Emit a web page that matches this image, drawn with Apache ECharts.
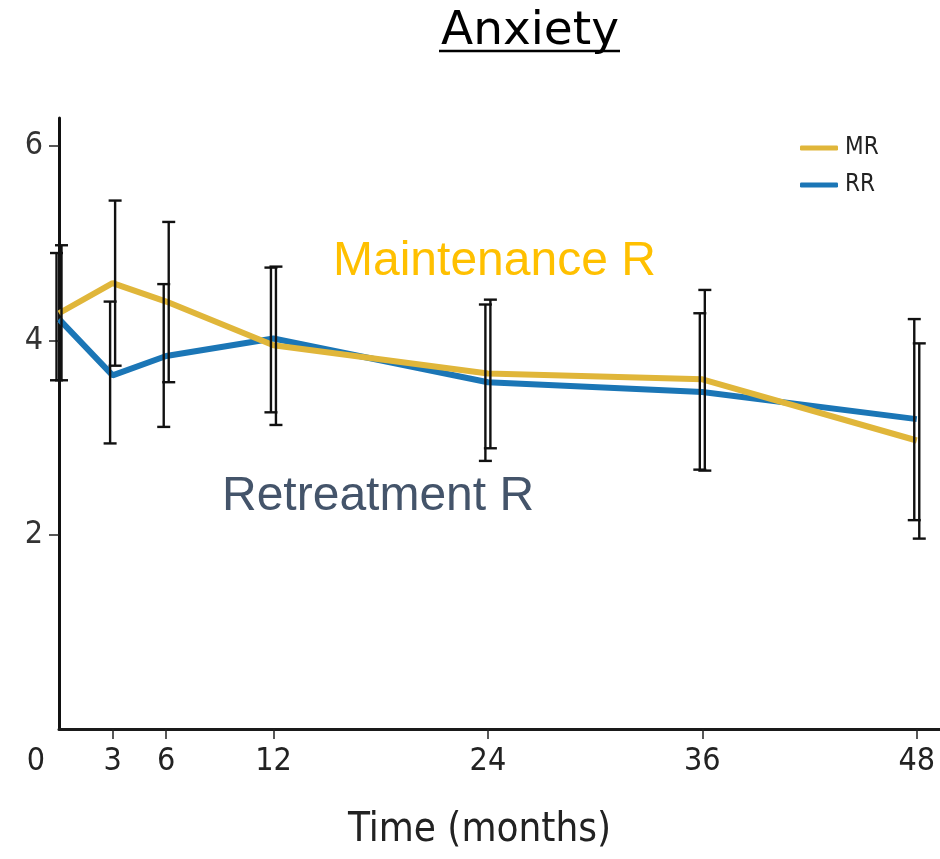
<!DOCTYPE html>
<html><head><meta charset="utf-8">
<script src="https://cdn.jsdelivr.net/npm/echarts@6/dist/echarts.min.js"></script>
<style>html,body{margin:0;padding:0;background:#fff}#c{width:940px;height:859px}</style>
</head><body><div id="c"></div>
<script>
// ---- data ----
const months = [0, 3, 6, 12, 24, 36, 48];
const mrMean = [4.28, 4.59, 4.40, 3.95, 3.66, 3.60, 2.97];
const mrLow  = [3.59, 3.74, 3.57, 3.13, 2.89, 2.66, 1.96];
const mrHigh = [4.98, 5.44, 5.22, 4.76, 4.42, 4.52, 3.97];
const rrMean = [4.22, 3.64, 3.84, 4.02, 3.57, 3.47, 3.19];
const rrLow  = [3.59, 2.94, 3.11, 3.26, 2.76, 2.67, 2.15];
const rrHigh = [4.90, 4.40, 4.58, 4.75, 4.37, 4.28, 4.22];
const xTickValues = [3, 6, 12, 24, 36, 48];
const xLabelValues = [0, 3, 6, 12, 24, 36, 48];
const yTickValues = [2, 4, 6];
const seriesNames = ['MR', 'RR'];

const condensed = "'Liberation Sans Narrow', 'DejaVu Sans Condensed', 'Roboto Condensed', 'Liberation Sans', sans-serif";
const MR_COLOR = '#E0B63A';
const RR_COLOR = '#1B76B6';

function errorBar(offset) {
  return function (params, api) {
    const x = api.value(0);
    const lo = api.coord([x, api.value(1)]);
    const hi = api.coord([x, api.value(2)]);
    const px = lo[0] + offset;
    const cap = 6.5;
    const st = { stroke: '#111', lineWidth: 2.4 };
    return {
      type: 'group',
      children: [
        { type: 'line', shape: { x1: px, y1: lo[1], x2: px, y2: hi[1] }, style: st },
        { type: 'line', shape: { x1: px - cap, y1: lo[1], x2: px + cap, y2: lo[1] }, style: st },
        { type: 'line', shape: { x1: px - cap, y1: hi[1], x2: px + cap, y2: hi[1] }, style: st }
      ]
    };
  };
}

const chart = echarts.init(document.getElementById('c'), null, { renderer: 'canvas' });
chart.setOption({
  backgroundColor: '#fff',
  animation: false,
  grid: { left: 59, right: 0, top: 118, bottom: 130 },
  legend: {
    data: seriesNames,
    orient: 'vertical',
    left: 795, top: 131,
    icon: 'roundRect',
    itemWidth: 38, itemHeight: 5,
    itemGap: 13,
    textStyle: { fontFamily: condensed, fontSize: 24, color: '#222', padding: [0, 0, 0, 2] }
  },
  xAxis: {
    type: 'value', min: 0, max: 49.3,
    name: 'Time (months)', nameLocation: 'middle', nameGap: 82,
    nameTextStyle: { fontFamily: condensed, fontSize: 40, color: '#222', padding: [0, 40, 0, 0] },
    axisLine: { show: true, onZero: false, lineStyle: { color: '#1a1a1a', width: 3 } },
    axisTick: { show: true, customValues: xTickValues, length: 10, lineStyle: { color: '#222', width: 1.5 } },
    axisLabel: {
      customValues: xLabelValues, margin: 17,
      fontFamily: condensed, fontSize: 32, color: '#222',
      formatter: v => v === 0 ? '{z|0}' : String(v),
      rich: { z: { fontFamily: condensed, fontSize: 32, color: '#222', padding: [0, 46, 0, 0] } }
    },
    splitLine: { show: false }
  },
  yAxis: {
    type: 'value', min: 0, max: 6.29,
    axisLine: { show: true, onZero: false, lineStyle: { color: '#111', width: 3 } },
    axisTick: { show: true, customValues: yTickValues, length: 10, lineStyle: { color: '#222', width: 1.5 } },
    axisLabel: { customValues: yTickValues, margin: 16, fontFamily: condensed, fontSize: 32, color: '#333' },
    splitLine: { show: false }
  },
  series: [
    { name: 'RR', type: 'line', data: months.map((m, i) => [m, rrMean[i]]), symbol: 'none',
      lineStyle: { color: RR_COLOR, width: 6 }, itemStyle: { color: RR_COLOR }, z: 2 },
    { name: 'MR', type: 'line', data: months.map((m, i) => [m, mrMean[i]]), symbol: 'none',
      lineStyle: { color: MR_COLOR, width: 6 }, itemStyle: { color: MR_COLOR }, z: 3 },
    { name: 'MR err', type: 'custom', renderItem: errorBar(2.5), encode: { x: 0, y: [1, 2] },
      data: months.map((m, i) => [m, mrLow[i], mrHigh[i]]), z: 5 },
    { name: 'RR err', type: 'custom', renderItem: errorBar(-2.5), encode: { x: 0, y: [1, 2] },
      data: months.map((m, i) => [m, rrLow[i], rrHigh[i]]), z: 5 }
  ],
  graphic: [
    { type: 'text', x: 530, y: 32, style: { text: 'Anxiety', font: "47px 'DejaVu Sans'", fill: '#000', align: 'center', verticalAlign: 'middle' } },
    { type: 'line', shape: { x1: 439, y1: 51, x2: 620, y2: 51 }, style: { stroke: '#000', lineWidth: 2.5 } },
    { type: 'text', x: 333, y: 262, style: { text: 'Maintenance R', font: "48px 'Liberation Sans'", fill: '#FFC000', align: 'left', verticalAlign: 'middle' } },
    { type: 'text', x: 222, y: 497, style: { text: 'Retreatment R', font: "48px 'Liberation Sans'", fill: '#44546A', align: 'left', verticalAlign: 'middle' } }
  ]
});
</script></body></html>
